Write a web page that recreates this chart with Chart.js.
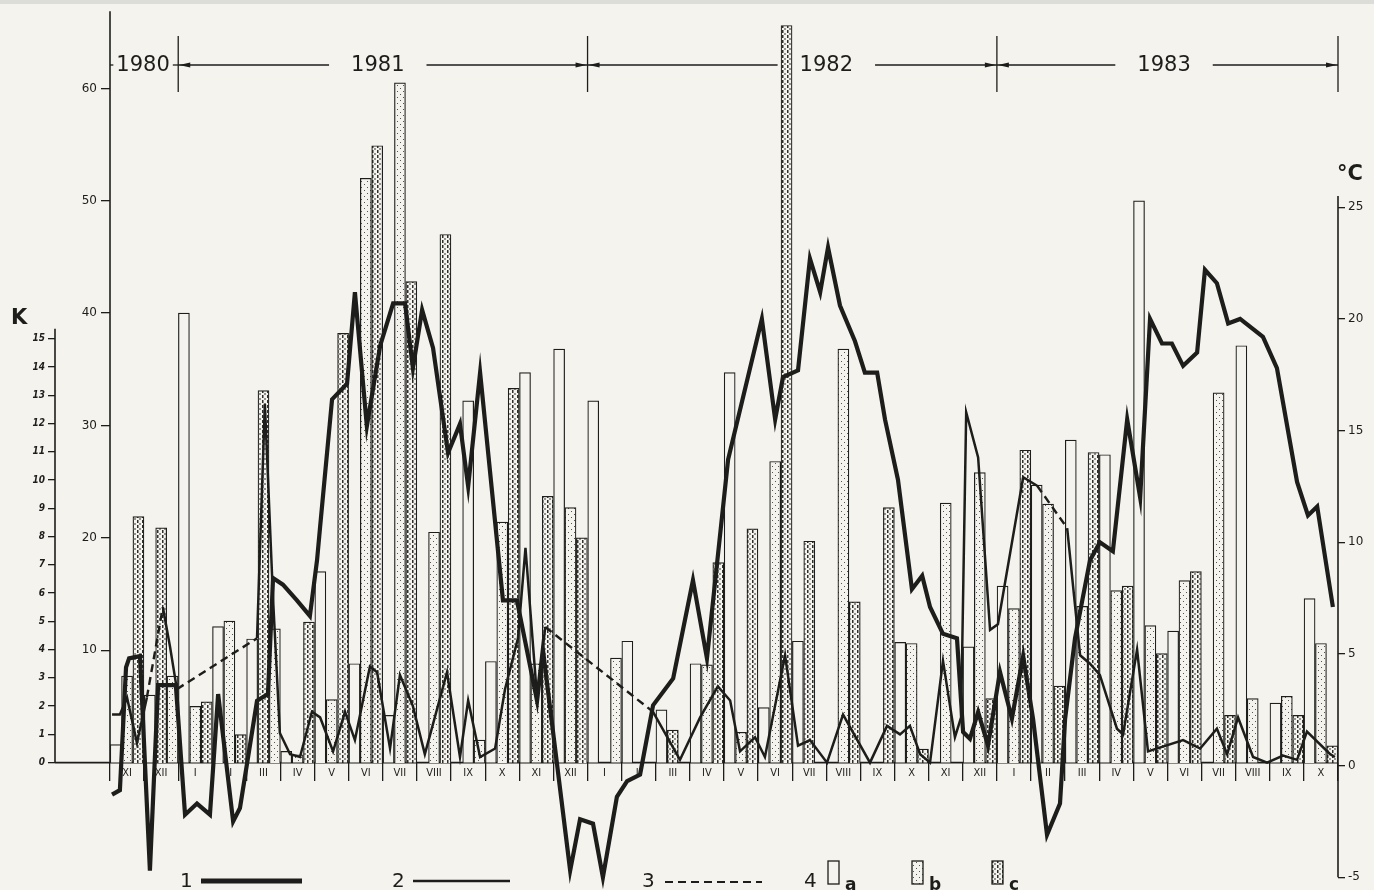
<!DOCTYPE html>
<html>
<head>
<meta charset="utf-8">
<script src="https://cdn.jsdelivr.net/npm/chart.js@4.4.1/dist/chart.umd.min.js"></script>
<style>
  html, body { margin: 0; padding: 0; background: #f4f3ee; }
  canvas { display: block; }
</style>
</head>
<body>
<canvas id="chart" width="1374" height="890"></canvas>
<script>
// months from XI 1980 to X 1983
const monthLabels = ['XI','XII','I','II','III','IV','V','VI','VII','VIII','IX','X','XI','XII',
  'I','II','III','IV','V','VI','VII','VIII','IX','X','XI','XII',
  'I','II','III','IV','V','VI','VII','VIII','IX','X'];
const years = ['1980', '1981', '1982', '1983'];
const yearBounds = [0, 2, 14, 26, 36];
const yearLabelAt = [0.97, 7.85, 21.0, 30.9];

const barTicks = [10, 20, 30, 40, 50, 60];
const kTicks = [0, 1, 2, 3, 4, 5, 6, 7, 8, 9, 10, 11, 12, 13, 14, 15];
const tempTicks = [-5, 0, 5, 10, 15, 20, 25];

// bars: [decade number (3 per month, from 1st decade of XI 1980), value]
const barsA = [[0,1.6],[3,6.0],[6,40.0],[9,12.1],[12,11.0],[15,1.0],[18,17.0],[21,8.8],[24,4.2],
  [31,32.2],[33,9.0],[36,34.7],[39,36.8],[42,32.2],[45,10.8],[48,4.7],[51,8.8],[54,34.7],[57,4.9],
  [60,10.8],[69,10.7],[75,10.3],[78,15.7],[81,24.7],[84,28.7],[87,27.4],[90,50.0],[93,11.7],
  [99,37.1],[102,5.3],[105,14.6]];
const barsB = [[1,7.7],[5,7.7],[7,5.0],[10,12.6],[14,11.9],[16,0.7],[19,5.6],[22,52.0],[25,60.5],
  [28,20.5],[32,2.0],[34,21.4],[37,8.8],[40,22.7],[44,9.3],[52,8.7],[55,2.7],[58,26.8],[64,36.8],
  [70,10.6],[73,23.1],[76,25.8],[79,13.7],[82,23.0],[85,13.9],[88,15.3],[91,12.2],[94,16.2],
  [97,32.9],[100,5.7],[103,5.9],[106,10.6]];
const barsC = [[2,21.9],[4,20.9],[8,5.4],[11,2.5],[13,33.1],[17,12.5],[20,38.2],[23,54.9],[26,42.8],
  [29,47.0],[35,33.3],[38,23.7],[41,20.0],[49,2.9],[53,17.8],[56,20.8],[59,65.6],[61,19.7],
  [65,14.3],[68,22.7],[71,1.2],[77,5.7],[80,27.8],[83,6.8],[86,27.6],[89,15.7],[92,9.7],
  [95,17.0],[98,4.2],[104,4.2],[107,1.5]];

// line 1: temperature, degC  [month, value]
const airTemp = [[0.06,-1.3],[0.29,-1.1],[0.47,4.4],[0.56,4.8],[0.88,4.9],[1.17,-4.7],[1.41,3.6],
  [1.93,3.6],[2.20,-2.2],[2.55,-1.7],[2.93,-2.2],[3.17,3.2],[3.61,-2.5],[3.81,-1.9],[4.31,2.9],
  [4.63,3.2],[4.78,8.4],[5.07,8.1],[5.48,7.4],[5.86,6.7],[6.07,9.2],[6.16,10.7],[6.51,16.4],
  [6.95,17.1],[7.18,21.2],[7.53,15.2],[7.92,18.8],[8.30,20.7],[8.65,20.7],[8.88,17.8],[9.15,20.4],
  [9.47,18.7],[9.91,14.0],[10.26,15.3],[10.50,12.5],[10.85,17.6],[11.52,7.4],[11.93,7.4],
  [12.52,2.9],[12.69,5.2],[13.49,-4.7],[13.78,-2.4],[14.16,-2.6],[14.45,-5.0],[14.86,-1.4],
  [15.16,-0.7],[15.54,-0.4],[15.92,2.7],[16.51,3.9],[17.09,8.3],[17.50,4.8],[18.12,13.7],
  [19.11,20.0],[19.50,15.5],[19.73,17.4],[20.17,17.7],[20.52,22.7],[20.82,21.2],[21.05,23.2],
  [21.40,20.6],[21.84,19.0],[22.13,17.6],[22.49,17.6],[22.72,15.5],[23.10,12.8],[23.51,7.9],
  [23.81,8.5],[24.04,7.1],[24.42,5.9],[24.83,5.7],[25.01,1.5],[25.21,1.2],[25.45,2.4],[25.74,0.9],
  [26.09,4.2],[26.44,2.1],[26.77,4.9],[27.06,2.1],[27.47,-3.1],[27.85,-1.7],[28.0,2.1],[28.29,5.7],
  [28.73,9.2],[29.02,10.0],[29.40,9.6],[29.82,15.5],[30.20,12.0],[30.49,20.0],[30.84,18.9],
  [31.13,18.9],[31.46,17.9],[31.87,18.5],[32.10,22.2],[32.45,21.6],[32.78,19.8],[33.13,20.0],
  [33.80,19.2],[34.21,17.8],[34.80,12.7],[35.12,11.2],[35.39,11.6],[35.85,7.1]];

// line 2: K (null = break, filled by line 3)
const kLine = [[0.06,1.7],[0.29,1.7],[0.50,2.3],[0.79,0.7],[1.08,2.3], null,
  [1.55,5.5],[1.76,4.1],[1.96,2.6], null,
  [4.31,4.4],[4.54,12.7],[4.78,5.8],[4.98,1.05],[5.28,0.3],[5.57,0.2],[5.92,1.8],[6.16,1.6],
  [6.54,0.4],[6.89,1.8],[7.18,0.8],[7.62,3.4],[7.83,3.2],[8.21,0.5],[8.50,3.1],[8.88,2.0],
  [9.23,0.3],[9.88,3.2],[10.26,0.2],[10.50,2.2],[10.85,0.2],[11.29,0.5],[11.58,2.6],[11.96,4.4],
  [12.18,7.6],[12.52,2.3],[12.76,4.8], null,
  [15.92,1.8],[16.71,0.1],[17.30,1.6],[17.82,2.7],[18.18,2.2],[18.47,0.4],[18.91,0.9],[19.20,0.2],
  [19.79,3.8],[20.17,0.6],[20.52,0.8],[21.02,0],[21.49,1.7],[22.28,0],[22.78,1.3],[23.16,1.0],
  [23.45,1.3],[23.75,0.3],[24.04,0],[24.42,3.6],[24.77,0.9],[24.95,1.6],[25.10,12.4],[25.45,10.8],
  [25.80,4.7],[26.03,4.9],[26.77,10.1],[27.18,9.8], null,
  [28.06,8.3],[28.44,3.8],[28.73,3.5],[29.02,3.1],[29.52,1.2],[29.70,1.0],[30.11,4.0],[30.43,0.4],
  [31.46,0.8],[31.96,0.5],[32.45,1.2],[32.75,0.3],[33.07,1.6],[33.51,0.2],[33.92,0],[34.39,0.25],
  [34.80,0.1],[35.09,1.1],[35.77,0.3],[35.91,0.2]];

// line 3: dashed parts of K
const kDashed = [[1.08,2.3],[1.55,5.5], null, [1.96,2.6],[4.31,4.4], null,
  [12.76,4.8],[15.92,1.8], null, [27.18,9.8],[28.06,8.3]];

const INK = '#1d1d1b';
const PAPER = '#f4f3ee';
const FONT = '"DejaVu Sans", sans-serif';
const NARROW = '"DejaVu Sans Condensed", "DejaVu Sans", sans-serif';

function toPoints(list) {
  let lastX = 0;
  return list.map(p => {
    if (p === null) return { x: lastX, y: null };
    lastX = p[0];
    return { x: p[0], y: p[1] };
  });
}
function toBars(list) {
  return list.map(([d, v]) => ({ x: (d + 0.5) / 3, y: v }));
}

function makePattern(kind) {
  const c = document.createElement('canvas');
  c.width = kind === 'c' ? 5 : 6;
  c.height = kind === 'c' ? 5 : 6;
  const g = c.getContext('2d');
  g.fillStyle = PAPER;
  g.fillRect(0, 0, c.width, c.height);
  if (kind === 'b') {
    g.fillStyle = '#55544f';
    g.fillRect(1, 1, 1, 1);
    g.fillRect(4, 4, 1, 1);
  } else {
    g.fillStyle = '#2e2e2b';
    g.fillRect(2, 0, 1.5, 3);
    g.fillRect(0, 3.5, 1, 1);
    g.fillRect(4, 3.5, 1, 1);
  }
  return g.createPattern(c, 'repeat');
}
const patternB = makePattern('b');
const patternC = makePattern('c');

function barSet(list, fill) {
  return {
    type: 'bar',
    data: toBars(list),
    yAxisID: 'y',
    backgroundColor: fill,
    borderColor: INK,
    borderWidth: 1.2,
    barThickness: 11,
    grouped: false,
    order: 2
  };
}

function line(ctx, x1, y1, x2, y2) {
  ctx.beginPath();
  ctx.moveTo(x1, y1);
  ctx.lineTo(x2, y2);
  ctx.stroke();
}
function arrow(ctx, x, y, dir) {
  ctx.beginPath();
  ctx.moveTo(x, y);
  ctx.lineTo(x - dir * 11, y - 2.5);
  ctx.lineTo(x - dir * 11, y + 2.5);
  ctx.closePath();
  ctx.fill();
}

// axis lines, year header and legend
const framePlugin = {
  id: 'frame',
  beforeDraw(chart) {
    const { ctx, width, height } = chart;
    ctx.save();
    ctx.fillStyle = PAPER;
    ctx.fillRect(0, 0, width, height);
    ctx.fillStyle = '#dcdcd9';
    ctx.fillRect(0, 0, width, 4);
    ctx.restore();
  },
  beforeDatasetsDraw(chart) {
    const { ctx, chartArea, scales } = chart;
    const { x, y, yK, yT } = scales;
    const base = y.getPixelForValue(0);
    ctx.save();
    ctx.strokeStyle = INK;
    ctx.lineWidth = 1.6;
    line(ctx, x.getPixelForValue(0), chartArea.top, x.getPixelForValue(0), base);
    line(ctx, yK.right, yK.getPixelForValue(15.35), yK.right, base);
    line(ctx, yK.right, base, chartArea.right, base);
    line(ctx, chartArea.right, yT.getPixelForValue(25.5), chartArea.right, yT.getPixelForValue(-5));
    ctx.restore();
  },
  afterDraw(chart) {
    const { ctx, scales } = chart;
    const { x } = scales;
    ctx.save();
    ctx.strokeStyle = INK;
    ctx.fillStyle = INK;
    ctx.lineWidth = 1.3;

    // years header
    const hy = 65;
    ctx.font = '21px ' + FONT;
    ctx.textAlign = 'center';
    ctx.textBaseline = 'middle';
    years.forEach((label, i) => {
      const left = x.getPixelForValue(yearBounds[i]);
      const right = x.getPixelForValue(yearBounds[i + 1]);
      const cx = x.getPixelForValue(yearLabelAt[i]);
      const half = ctx.measureText(label).width / 2;
      const gap = i === 0 ? 3 : 22;
      ctx.fillText(label, cx, hy + 1);
      line(ctx, left, hy, cx - half - gap, hy);
      line(ctx, cx + half + gap, hy, right, hy);
      if (i > 0) {
        arrow(ctx, left + 1, hy, -1);
        arrow(ctx, right - 1, hy, 1);
      }
    });
    yearBounds.slice(1).forEach(b => {
      const px = x.getPixelForValue(b);
      line(ctx, px, 36, px, 92);
    });

    // axis titles
    ctx.font = 'bold 21px ' + FONT;
    ctx.textAlign = 'left';
    ctx.fillText('K', 11, 319);
    ctx.fillText('°C', 1337, 175);

    // legend
    const ly = 881;
    ctx.font = '20px ' + FONT;
    ctx.textBaseline = 'alphabetic';
    ctx.fillText('1', 180, 887);
    ctx.lineWidth = 5;
    line(ctx, 201, ly, 302, ly);
    ctx.fillText('2', 392, 887);
    ctx.lineWidth = 2.6;
    line(ctx, 413, ly, 510, ly);
    ctx.fillText('3', 642, 887);
    ctx.lineWidth = 2.2;
    ctx.setLineDash([8, 5]);
    line(ctx, 665, ly + 1, 762, ly + 1);
    ctx.setLineDash([]);
    ctx.fillText('4', 804, 887);
    ctx.lineWidth = 1.3;
    const boxes = [[828, PAPER, 'a'], [912, patternB, 'b'], [992, patternC, 'c']];
    ctx.font = 'bold 17px ' + FONT;
    boxes.forEach(([bx, fill, tag]) => {
      ctx.fillStyle = fill;
      ctx.fillRect(bx, 861, 11, 23);
      ctx.strokeRect(bx, 861, 11, 23);
      ctx.fillStyle = INK;
      ctx.fillText(tag, bx + 17, 890);
    });
    ctx.restore();
  }
};

const ctx = document.getElementById('chart').getContext('2d');
const chart = new Chart(ctx, {
  type: 'line',
  data: {
    datasets: [
      {
        data: toPoints(airTemp),
        yAxisID: 'yT',
        borderColor: INK,
        borderWidth: 4.2,
        pointRadius: 0,
        tension: 0,
        clip: false,
        order: 0
      },
      {
        data: toPoints(kLine),
        yAxisID: 'yK',
        borderColor: INK,
        borderWidth: 2.5,
        pointRadius: 0,
        tension: 0,
        spanGaps: false,
        order: 0
      },
      {
        data: toPoints(kDashed),
        yAxisID: 'yK',
        borderColor: INK,
        borderWidth: 2.4,
        borderDash: [8, 5],
        pointRadius: 0,
        tension: 0,
        spanGaps: false,
        order: 0
      },
      barSet(barsA, PAPER),
      barSet(barsB, patternB),
      barSet(barsC, patternC)
    ]
  },
  options: {
    responsive: false,
    animation: false,
    layout: { padding: { top: 8, bottom: 8, left: 0, right: 0 } },
    plugins: { legend: { display: false }, tooltip: { enabled: false } },
    scales: {
      x: {
        type: 'linear',
        min: 0,
        max: 36,
        offset: false,
        position: { y: 0 },
        afterBuildTicks: s => { s.ticks = monthLabels.map((m, i) => ({ value: i })).concat([{ value: 36 }]); },
        ticks: {
          callback: v => monthLabels[v] || '',
          labelOffset: 17,
          padding: -14,
          maxRotation: 0,
          autoSkip: false,
          color: INK,
          font: { family: NARROW, size: 11 }
        },
        grid: { drawOnChartArea: false, offset: false, tickLength: 18, color: INK, lineWidth: 1.3 },
        border: { display: false }
      },
      y: {
        position: 'left',
        weight: 1,
        min: -10.34,
        max: 66.87,
        afterBuildTicks: s => { s.ticks = barTicks.map(v => ({ value: v })); },
        afterFit: s => { s.width = 55; },
        ticks: { color: INK, padding: 4, font: { family: FONT, size: 12 } },
        grid: { drawOnChartArea: false, tickLength: 9, color: INK, lineWidth: 1.3 },
        border: { display: false }
      },
      yK: {
        position: 'left',
        weight: 2,
        min: -4.11,
        max: 26.59,
        afterBuildTicks: s => { s.ticks = kTicks.map(v => ({ value: v })); },
        afterFit: s => { s.width = 55; },
        ticks: { color: INK, padding: 3, font: { family: NARROW, size: 10, weight: 'bold', style: 'italic' } },
        grid: { drawOnChartArea: false, tickLength: 7, color: INK, lineWidth: 1.3 },
        border: { display: false }
      },
      yT: {
        position: 'right',
        min: -5.07,
        max: 33.78,
        afterBuildTicks: s => { s.ticks = tempTicks.map(v => ({ value: v })); },
        afterFit: s => { s.width = 36; },
        ticks: { color: INK, padding: 3, font: { family: FONT, size: 12 } },
        grid: { drawOnChartArea: false, tickLength: 7, color: INK, lineWidth: 1.3 },
        border: { display: false }
      }
    }
  },
  plugins: [framePlugin]
});
</script>
</body>
</html>
